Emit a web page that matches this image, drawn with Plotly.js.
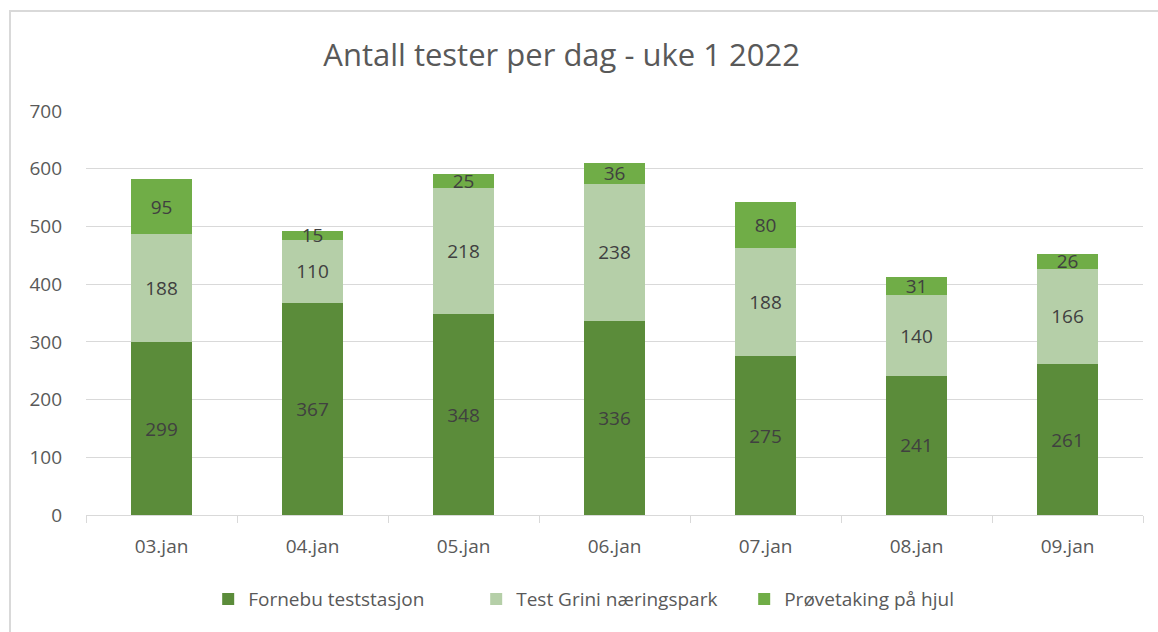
<!DOCTYPE html>
<html>
<head>
<meta charset="utf-8">
<script src="https://cdn.plot.ly/plotly-3.0.1.min.js"></script>
<style>
html,body{margin:0;padding:0;background:#fff;overflow:hidden;}
#wrap{position:relative;width:1158px;height:632px;overflow:hidden;}
#chart{width:1158px;height:632px;}
#frame{position:absolute;left:9px;top:10px;width:2000px;height:2000px;border-left:2px solid #d9d9d9;border-top:2px solid #d9d9d9;pointer-events:none;}
</style>
</head>
<body>
<div id="wrap"><div id="chart"></div><div id="frame"></div></div>
<script>
const categories = ["03.jan","04.jan","05.jan","06.jan","07.jan","08.jan","09.jan"];
const fornebu = [299,367,348,336,275,241,261];
const grini = [188,110,218,238,188,140,166];
const hjul = [95,15,25,36,80,31,26];
const seriesNames = ["Fornebu teststasjon","Test Grini næringspark","Prøvetaking på hjul"];
const colors = ["#5b8c3a","#b5cfa8","#70ad47"];

const font = "Open Sans, Liberation Sans, sans-serif";
function bar(vals, name, color){
  return {
    type:"bar", x:categories, y:vals, name:name,
    marker:{color:color, line:{width:0}},
    text:vals.map(String), textposition:"inside", insidetextanchor:"middle",
    textangle:0, constraintext:"none",
    textfont:{family:font, size:19, color:"#404040"},
    hoverinfo:"skip"
  };
}
const data = [
  bar(fornebu, seriesNames[0], colors[0]),
  bar(grini, seriesNames[1], colors[1]),
  bar(hjul, seriesNames[2], colors[2])
];
const layout = {
  width:1158, height:632,
  barmode:"stack", bargap:0.6,
  paper_bgcolor:"rgba(0,0,0,0)", plot_bgcolor:"rgba(0,0,0,0)",
  margin:{l:86, r:15, t:111, b:117},
  title:{text:"Antall tester per dag - uke 1 2022", x:0.485, xanchor:"center", y:0.912, yanchor:"middle",
         font:{family:font, size:31, color:"#595959"}},
  font:{family:font, color:"#595959"},
  xaxis:{type:"category", showgrid:false, showline:true, linecolor:"#d9d9d9", linewidth:1,
         ticks:"outside", tickson:"boundaries", ticklen:7, tickcolor:"#d9d9d9",
         ticklabelstandoff:14,
         tickfont:{family:font, size:19, color:"#595959"}, fixedrange:true},
  yaxis:{range:[0,700], dtick:100, showgrid:true, gridcolor:"#d9d9d9", gridwidth:1,
         zeroline:false, showline:false, ticks:"", ticklabelstandoff:23,
         tickfont:{family:font, size:19, color:"#595959"}, fixedrange:true},
  showlegend:true,
  legend:{orientation:"h", x:0.1156, xanchor:"left", y:-0.161, yanchor:"top",
          traceorder:"normal", font:{family:font, size:19, color:"#595959"},
          itemwidth:30, entrywidth:223, entrywidthmode:"pixels"},
};
Plotly.newPlot("chart", data, layout, {displayModeBar:false, staticPlot:true});
</script>
</body>
</html>
